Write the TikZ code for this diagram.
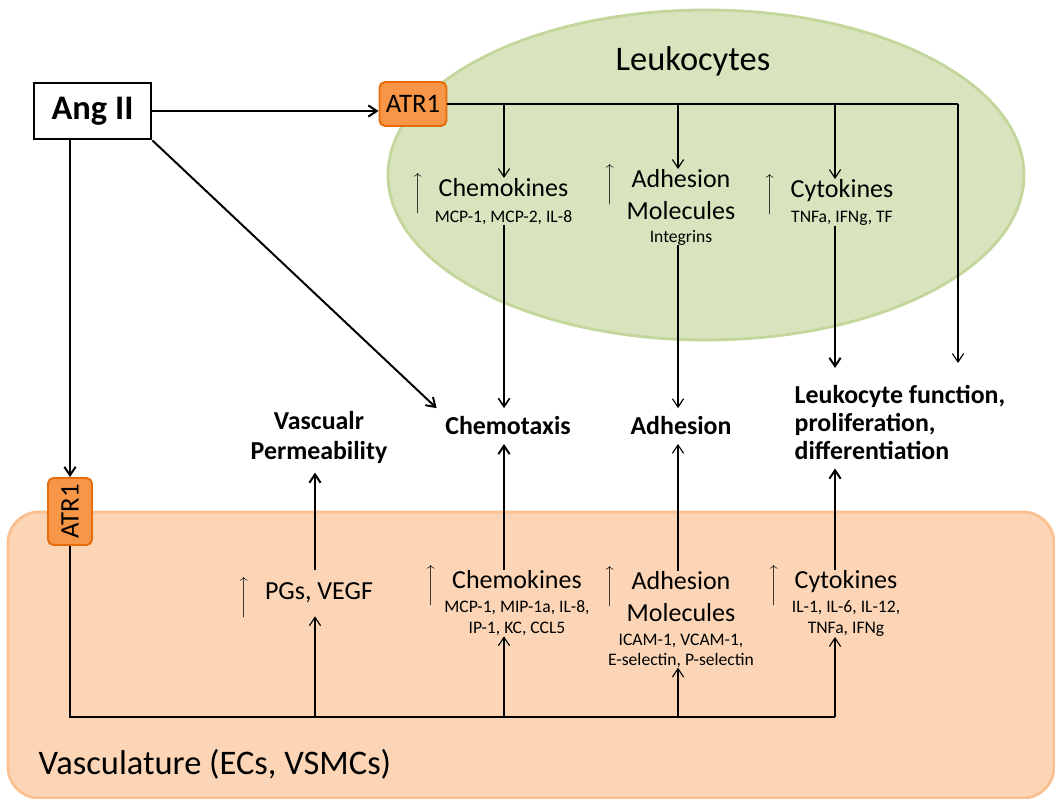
\documentclass[tikz,border=0pt]{standalone}
\usepackage{exscale}
\usepackage{fontspec}
\setmainfont{Carlito}
\usetikzlibrary{arrows.meta}

\definecolor{leukfill}{HTML}{D7E4BD}
\definecolor{leukline}{HTML}{C3D69B}
\definecolor{vascfill}{HTML}{FBD5B5}
\definecolor{vascline}{HTML}{FAC090}
\definecolor{atrfill}{HTML}{F79646}
\definecolor{atrline}{HTML}{E46C0A}

\newcommand\bigf{\fontsize{18.5}{14}\selectfont}
\newcommand\upa{\llap{\smash{\fontsize{13}{14}\selectfont\raisebox{-1.2pt}{$\left\uparrow\vcenter{\hbox{\vrule height 24pt width 0pt}}\right.$}}\hspace{9.8pt}}}

\begin{document}
\begin{tikzpicture}[x=0.025cm, y=-0.025cm, >={Straight Barb[length=6pt,width=8pt]},
		thinline/.style={line width=0.8pt},
		thickline/.style={line width=1.4pt},
		atr/.style={draw=atrline, fill=atrfill, line width=1.4pt, rounded corners=4pt, minimum width=1.675cm, minimum height=1.1cm, inner sep=0pt, font=\fontsize{19}{22}\selectfont},
		blk/.style={inner sep=0pt, align=center, font=\fontsize{12.5}{14}\selectfont},
		mid/.style={inner sep=6pt, font=\bfseries\fontsize{18.4}{21.3}\selectfont},
		title/.style={font=\fontsize{24.5}{29}\selectfont}]
		\useasboundingbox (0,0) rectangle (1055,799);
		
		%%%%% BACKGROUND %%%%%
		\draw[leukline, fill=leukfill, line width=2pt] (706,175) ellipse [x radius=318, y radius=165];
		\draw[vascline, fill=vascfill, line width=2pt, rounded corners=22pt] (8,512) rectangle (1054,798);
		
		\coordinate (colpg) at (315,0);
		\coordinate (colchem) at (504,0);
		\coordinate (coladh) at (678,0);
		\coordinate (colcyt) at (835,0);
		\coordinate (bus) at (835,717);
		\coordinate (rtip) at (958,363);
		\coordinate (ctip) at (835,368);
		
		%%%%% NODES %%%%%
		\node[draw, line width=2.1pt, minimum width=2.925cm, minimum height=1.4cm, font=\bfseries\fontsize{24.5}{29}\selectfont] (angii) at (92.5,111) {Ang II};
		\node[atr] (atrtop) at (413,104) {ATR1};
		\node[atr, rotate=90] (atrbot) at (70,511.5) {ATR1};
		\node[title, anchor=base] (leuk) at (693,71) {Leukocytes};
		\node[title, anchor=base] (vasc) at (215,775) {Vasculature (ECs, VSMCs)};
		
		\node[blk, anchor=north] (chemtop) at (503.5,178) {{\bigf\upa Chemokines}\\[4.4pt]MCP-1, MCP-2, IL-8};
		\node[blk, anchor=north] (adhtop) at (681,169) {{\bigf\upa Adhesion}\\[8.7pt]{\bigf Molecules}\\[2.3pt]Integrins};
		\node[blk, anchor=north] (cyttop) at (842,179) {{\bigf\upa Cytokines}\\[4pt]TNFa, IFNg, TF};
		
		\node[mid, align=center, anchor=north] (vascp) at (319,403) {Vascualr\\Permeability};
		\node[mid, anchor=base] (chemotaxis) at (508,435) {Chemotaxis};
		\node[mid, anchor=base] (adhmid) at (681,435) {Adhesion};
		\node[mid, align=left, anchor=north west, font=\bfseries\fontsize{18.4}{19.8}\selectfont] (leukfn) at (786,377) {Leukocyte function,\\proliferation,\\differentiation};
		
		\node[inner sep=9pt, font=\bigf, anchor=base] (pg) at (319,600) {\upa PGs, VEGF};
		\node[blk, anchor=north] (chembot) at (517,570) {{\bigf\upa Chemokines}\\[3.4pt]MCP-1, MIP-1a, IL-8,\\[0.9pt]IP-1, KC, CCL5};
		\node[blk, anchor=north] (adhbot) at (681,571) {{\bigf\upa Adhesion}\\[8.7pt]{\bigf Molecules}\\[3pt]ICAM-1, VCAM-1,\\[0.2pt]E-selectin, P-selectin};
		\node[blk, anchor=north] (cytbot) at (846,570) {{\bigf\upa Cytokines}\\[3.4pt]IL-1, IL-6, IL-12,\\[0.9pt]TNFa, IFNg};
		
		%%%%% ANG II %%%%%
		\draw[thickline, ->] (angii.east) -- (angii.east -| atrtop.west);
		\draw[thickline, ->] (atrbot |- angii.south) -- (atrbot);
		\draw[thickline, ->] (angii.south east) -- (chemotaxis.north west);
		
		%%%%% LEUKOCYTES %%%%%
		\draw[thickline] (atrtop.east) -- (rtip |- atrtop.east);
		\draw[thinline, ->] (rtip |- atrtop.east) -- (rtip);
		\draw[thinline, ->] (colchem |- atrtop.east) -- (colchem |- chemtop.north);
		\draw[thinline, ->] (coladh |- atrtop.east) -- (coladh |- adhtop.north);
		\draw[thinline, ->] (colcyt |- atrtop.east) -- (colcyt |- cyttop.north);
		\draw[line width=1.1pt, ->] (colchem |- chemtop.south) -- (colchem |- chemotaxis.north);
		\draw[thinline, ->] (coladh |- adhtop.south) -- (coladh |- adhmid.north);
		\draw[thickline, ->] (colcyt |- cyttop.south) -- (ctip);
		
		%%%%% VASCULATURE %%%%%
		\draw[thinline] (atrbot) |- (bus);
		\draw[thinline, ->] (colpg |- bus) -- (colpg |- pg.south);
		\draw[thinline, ->] (colchem |- bus) -- (colchem |- chembot.south);
		\draw[thinline, ->] (coladh |- bus) -- (coladh |- adhbot.south);
		\draw[thinline, ->] (bus) -- (colcyt |- cytbot.south);
		\draw[thickline, ->] (colpg |- pg.north) -- (colpg |- vascp.south);
		\draw[thickline, ->] (colchem |- chembot.north) -- (colchem |- chemotaxis.south);
		\draw[thinline, ->] (coladh |- adhbot.north) -- (coladh |- adhmid.south);
		\draw[thickline, ->] (colcyt |- cytbot.north) -- (colcyt |- leukfn.south);
	\end{tikzpicture}
\end{document}
